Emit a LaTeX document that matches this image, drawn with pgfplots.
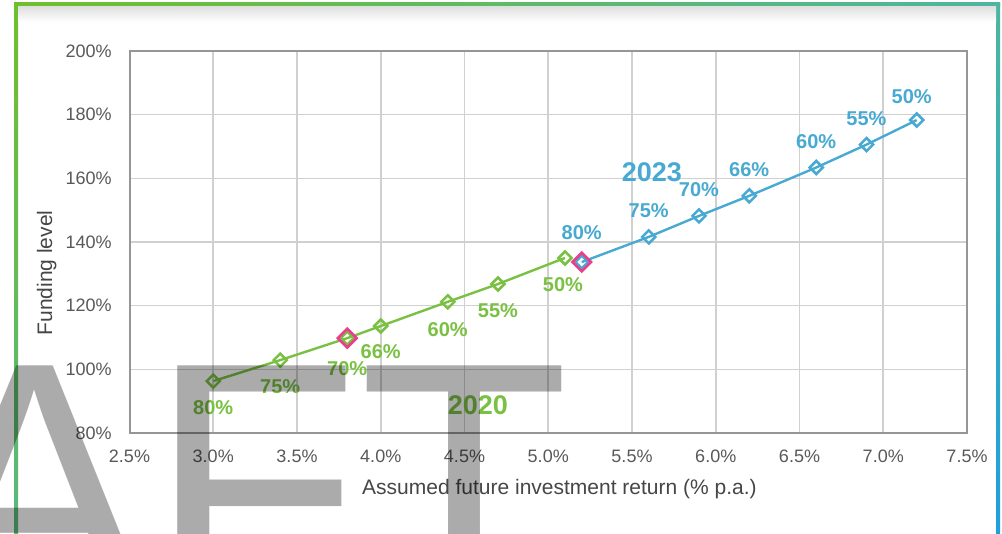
\documentclass[border=0pt]{standalone}
\usepackage{pgfplots}
\pgfplotsset{compat=1.18}
\usepackage{fontspec}
\setmainfont{Liberation Sans}
\definecolor{cgreen}{RGB}{122,193,67}
\definecolor{cblue}{RGB}{72,170,210}
\definecolor{cpink}{RGB}{236,60,140}
\definecolor{ctick}{RGB}{89,89,89}
\definecolor{clab}{RGB}{70,70,70}
\definecolor{cgrid}{RGB}{208,208,208}
\definecolor{caxis}{RGB}{150,150,150}
\definecolor{fgreen}{RGB}{112,191,44}
\definecolor{fteal}{RGB}{77,182,160}
\definecolor{fblue}{RGB}{30,160,220}
\begin{document}
\begin{tikzpicture}
\fill[white] (0,0) rectangle (501bp,267bp);
% frame
\shade[left color=fgreen, right color=fteal] (7bp,263.5bp) rectangle (500bp,265.5bp);
\shade[top color=fgreen, bottom color=fteal!70!fgreen] (7bp,0bp) rectangle (9bp,265.5bp);
\shade[top color=fteal, bottom color=fblue] (498bp,0bp) rectangle (500bp,265.5bp);
\shade[top color=black!12, bottom color=white] (9bp,256bp) rectangle (498bp,263.5bp);
\begin{axis}[
  at={(64.75bp,50.5bp)}, anchor=south west,
  width=418.75bp, height=191bp, scale only axis,
  xmin=2.5, xmax=7.5, ymin=80, ymax=200,
  xtick={2.5,3.0,3.5,4.0,4.5,5.0,5.5,6.0,6.5,7.0,7.5},
  xticklabels={2.5\%,3.0\%,3.5\%,4.0\%,4.5\%,5.0\%,5.5\%,6.0\%,6.5\%,7.0\%,7.5\%},
  ytick={80,100,120,140,160,180,200},
  yticklabels={80\%,100\%,120\%,140\%,160\%,180\%,200\%},
  grid=major, major grid style={color=cgrid, line width=0.8bp},
  axis line style={color=caxis, line width=1bp},
  major tick length=0pt,
  /pgf/number format/assume math mode=true,
  every tick label/.append style={font=\fontsize{9bp}{10bp}\selectfont, text=ctick},
  xticklabel style={inner sep=0pt, yshift=-8.5bp},
  yticklabel style={inner sep=0pt, xshift=-8.75bp},
  xlabel={Assumed future investment return (\% p.a.)},
  ylabel={Funding level},
  label style={font=\fontsize{10.5bp}{12bp}\selectfont, text=clab},
  xlabel style={at={(axis description cs:0.5134,-0.1597)}, anchor=base},
  ylabel style={at={(axis description cs:-0.0925,0.419)}, anchor=base},
  clip=false,
]
% 2020 series
\addplot[color=cgreen, line width=1.2bp, mark=square, mark size=2.3bp,
  mark options={rotate=45, fill=white, line width=1.3bp, solid}]
  coordinates {(3.0,96.3) (3.4,102.9) (3.8,109.8) (4.0,113.6) (4.4,121.2) (4.7,126.8) (5.1,135.0)};
% 2023 series
\addplot[color=cblue, line width=1.2bp, mark=square, mark size=2.3bp,
  mark options={rotate=45, fill=white, line width=1.3bp, solid}]
  coordinates {(5.2,133.7) (5.6,141.6) (5.9,148.2) (6.2,154.5) (6.6,163.4) (6.9,170.6) (7.2,178.3)};
% highlighted points
\addplot[only marks, color=cpink, mark=square, mark size=3.3bp,
  mark options={rotate=45, fill=white, line width=1.3bp, solid}]
  coordinates {(3.8,109.8) (5.2,133.7)};
% green labels
\begin{scope}[every node/.style={font=\bfseries\fontsize{10bp}{12bp}\selectfont, text=cgreen, inner sep=0pt}]
\node[yshift=-13.5bp] at (axis cs:3.0,96.3) {80\%};
\node[yshift=-13.5bp] at (axis cs:3.4,102.9) {75\%};
\node[yshift=-15bp] at (axis cs:3.8,109.8) {70\%};
\node[yshift=-13bp] at (axis cs:4.0,113.6) {66\%};
\node[yshift=-14bp] at (axis cs:4.4,121.2) {60\%};
\node[yshift=-13.5bp] at (axis cs:4.7,126.8) {55\%};
\node[yshift=-13.5bp, xshift=-1bp] at (axis cs:5.1,135.0) {50\%};
\node[font=\bfseries\fontsize{13.5bp}{15bp}\selectfont] at (axis cs:4.58,88.8) {2020};
\end{scope}
% blue labels
\begin{scope}[every node/.style={font=\bfseries\fontsize{10bp}{12bp}\selectfont, text=cblue, inner sep=0pt}]
\node[yshift=14.5bp] at (axis cs:5.2,133.7) {80\%};
\node[yshift=13bp] at (axis cs:5.6,141.6) {75\%};
\node[yshift=13bp] at (axis cs:5.9,148.2) {70\%};
\node[yshift=13bp] at (axis cs:6.2,154.5) {66\%};
\node[yshift=13bp] at (axis cs:6.6,163.4) {60\%};
\node[yshift=13bp] at (axis cs:6.9,170.6) {55\%};
\node[yshift=11.5bp, xshift=-2.5bp] at (axis cs:7.2,178.3) {50\%};
\node[font=\bfseries\fontsize{13.5bp}{15bp}\selectfont] at (axis cs:5.619,162.0) {2023};
\end{scope}
\end{axis}
% DRAFT watermark
\node[anchor=base east, inner sep=0pt, text=black, text opacity=0.33,
  font=\fontsize{172bp}{172bp}\selectfont] at (285bp,-34bp) {DRAFT};
\pgfresetboundingbox
\useasboundingbox (0,0) rectangle (501bp,267bp);
\end{tikzpicture}
\end{document}
